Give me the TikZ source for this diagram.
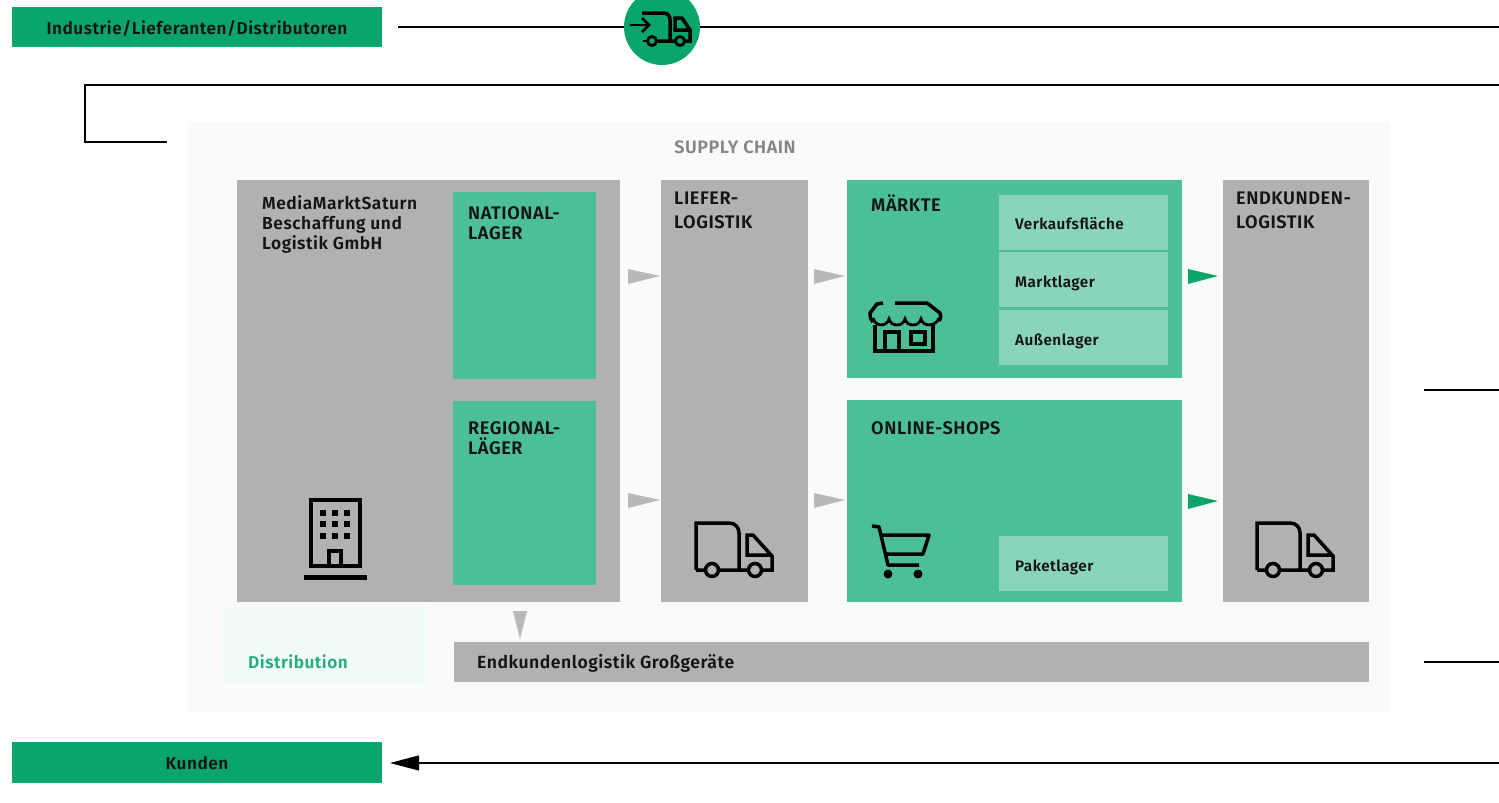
\documentclass[tikz,border=0pt]{standalone}
\usepackage{fontspec}
\setmainfont{Fira Sans}[BoldFont={Fira Sans SemiBold},LetterSpace=3]
\usetikzlibrary{arrows.meta}
\definecolor{gStrong}{HTML}{0AA56B}
\definecolor{gMid}{HTML}{4DBF98}
\definecolor{gLight}{HTML}{8AD4BA}
\definecolor{grayBox}{HTML}{B1B1B1}
\definecolor{grayArrow}{HTML}{B8B8B8}
\definecolor{inkDark}{HTML}{141414}
\tikzset{
  x=1pt,y=-1pt,
  box/.style={inner sep=0pt,outer sep=0pt,anchor=north west},
  greybox/.style={box,fill=grayBox},
  midbox/.style={box,fill=gMid},
  subbox/.style={box,fill=gLight},
  strongbox/.style={box,fill=gStrong},
  lbl/.style={inner sep=0pt,anchor=north west,align=left,font=\fontsize{17.4}{20}\selectfont\bfseries,text=inkDark},
  caps/.style={inner sep=0pt,anchor=north west,align=left,font=\fontsize{18.2}{20}\selectfont\bfseries,text=inkDark},
  capstall/.style={caps,font=\fontsize{18.2}{23.5}\selectfont\bfseries},
  sublbl/.style={inner sep=0pt,anchor=base west,font=\fontsize{15.3}{18}\selectfont\bfseries,text=inkDark},
  widelbl/.style={inner sep=0pt,font=\fontsize{17.2}{18}\selectfont\bfseries,text=inkDark},
  wire/.style={draw=black,line width=1.1pt},
  icon/.style={draw=black,line width=3.5pt,fill=none},
  iconthin/.style={draw=black,line width=2.8pt,fill=none},
}
\newcommand{\boxat}[6]{\node[#1,minimum width=#5pt,minimum height=#6pt] (#2) at (#3,#4) {};}
\newcommand{\truckicon}[2]{%
  \begin{scope}[shift={(#1,#2)}]
    \draw[icon,line join=miter] (0,47) -- (0,0) -- (33,0) .. controls (39,0) and (43,4) .. (43,10) -- (43,47);
    \draw[icon] (0,47) -- (9,47) (23,47) -- (52,47) (66,47) -- (76,47) -- (76,33) -- (57,12) -- (51,12) -- (51,32) -- (76,32);
    \draw[icon] (16,47) circle (6.5);
    \draw[icon] (59,47) circle (6.5);
  \end{scope}}
\begin{document}
\begin{tikzpicture}
\useasboundingbox (0,0) rectangle (1499,803);
\fill[white] (0,0) rectangle (1499,803);
% panel
\fill[black!1.8] (188,122) rectangle (1390,712);
\fill[gLight!10] (222,606) rectangle (430,684);
\node[widelbl,font=\fontsize{18}{20}\selectfont\bfseries,text=black!48] (sc) at (735,147) {SUPPLY CHAIN};
% top and bottom bars
\boxat{strongbox}{ind}{12}{7}{370}{40}
\node[widelbl] at (197,28) {Industrie/Lieferanten/Distributoren};
\boxat{strongbox}{kun}{12}{742}{370}{41}
\node[widelbl] at (197,763) {Kunden};
\node[circle,fill=gStrong,minimum size=76pt,inner sep=0pt,outer sep=0pt] (circ) at (662,27) {};
% boxes
\boxat{greybox}{mms}{237}{180}{383}{422}
\boxat{midbox}{nat}{453}{192}{143}{187}
\boxat{midbox}{reg}{453}{401}{143}{184}
\boxat{greybox}{lief}{661}{180}{147}{422}
\boxat{midbox}{mar}{847}{180}{335}{198}
\boxat{subbox}{vk}{999}{195}{169}{55}
\boxat{subbox}{ml}{999}{252}{169}{55}
\boxat{subbox}{al}{999}{310}{169}{55}
\boxat{midbox}{onl}{847}{400}{335}{202}
\boxat{subbox}{pak}{999}{536}{169}{55}
\boxat{greybox}{end}{1223}{180}{146}{422}
\boxat{greybox}{gross}{454}{642}{915}{40}
% labels
\node[lbl] at (262,195) {MediaMarktSaturn\\Beschaffung und\\Logistik GmbH};
\node[caps] at (468,206) {NATIONAL-\\LAGER};
\node[caps] at (468,421) {REGIONAL-\\LÄGER};
\node[capstall] at (674,192) {LIEFER-\\LOGISTIK};
\node[caps] at (871,195) {MÄRKTE};
\node[caps] at (871,421) {ONLINE-SHOPS};
\node[capstall] at (1236,192) {ENDKUNDEN-\\LOGISTIK};
\node[sublbl] at (1015,229) {Verkaufsfläche};
\node[sublbl] at (1015,287) {Marktlager};
\node[sublbl] at (1015,345) {Außenlager};
\node[sublbl] at (1015,571) {Paketlager};
\node[sublbl,font=\fontsize{17.6}{18}\selectfont\bfseries] at (477,668) {Endkundenlogistik Großgeräte};
\node[sublbl,font=\fontsize{17.2}{18}\selectfont\bfseries,text=gStrong!90] at (248,668) {Distribution};
% wires
\coordinate (a1) at (398,27);
\coordinate (a2) at (1499,27);
\coordinate (b1) at (1499,85);
\coordinate (b2) at (85,85);
\coordinate (b3) at (85,142);
\coordinate (b4) at (167,142);
\coordinate (c1) at (1424,390);
\coordinate (c2) at (1499,390);
\coordinate (d1) at (1424,662);
\coordinate (d2) at (1499,662);
\coordinate (e1) at (1499,763);
\coordinate (e2) at (390,763);
\draw[wire] (a1) -- (circ);
\draw[wire] (circ) -- (a2);
\draw[wire] (b1) -- (b2) -- (b3) -- (b4);
\draw[wire] (c1) -- (c2);
\draw[wire] (d1) -- (d2);
\draw[wire,-{Triangle[length=29pt,width=15pt,fill=black]}] (e1) -- (e2);
% small arrowheads
\fill[grayArrow] (628,269) -- (660,276) -- (628,284) -- cycle;
\fill[grayArrow] (628,493) -- (660,500) -- (628,508) -- cycle;
\fill[grayArrow] (814,269) -- (845,276) -- (814,284) -- cycle;
\fill[grayArrow] (814,493) -- (845,500) -- (814,508) -- cycle;
\fill[gStrong] (1188,269) -- (1218,276) -- (1188,284) -- cycle;
\fill[gStrong] (1188,494) -- (1218,501) -- (1188,509) -- cycle;
\fill[grayArrow] (513,611) -- (527,611) -- (520,639) -- cycle;
% truck icons
\truckicon{696}{523}
\truckicon{1257}{523}
% building
\draw[icon,line width=3.6pt] (311,566) -- (311,500) -- (360,500) -- (360,566) -- cycle;
\draw[icon,line width=5pt] (304,577) -- (367,577);
\foreach \xx in {323,335,347}{\foreach \yy in {513,524,536}{\fill[black] (\xx-2.6,\yy-2.6) rectangle (\xx+2.6,\yy+2.6);}}
\draw[icon] (329,566) -- (329,551) -- (341,551) -- (341,566);
% store
\draw[icon,line join=round] (883,303) -- (877,304) -- (870,313) .. controls (870,318) and (871,320) .. (873,322);
\draw[icon,line join=round] (895,303) -- (927,303) -- (940,313) .. controls (941,317) and (941,319) .. (939,321);
\draw[iconthin] (873,318) .. controls (875,327) and (887,327) .. (889,319) .. controls (891,327) and (903,327) .. (905,319) .. controls (907,327) and (919,327) .. (921,319) .. controls (923,327) and (936,327) .. (939,318);
\draw[icon] (875,325) -- (875,351) -- (933,351) -- (933,325);
\draw[icon] (885,351) -- (885,332) -- (899,332) -- (899,351);
\draw[icon] (911,332) -- (925,332) -- (925,344) -- (911,344) -- cycle;
% cart
\draw[icon,line join=round] (872,526) -- (879,527) -- (888,565) -- (919,565);
\draw[icon,line join=round] (882,535) -- (929,535) -- (923,554) -- (885,554);
\fill[black] (888,574) circle (4.5);
\fill[black] (918,574) circle (4.5);
% fast truck in circle
\draw[icon] (642,13) -- (663,13) .. controls (668,13) and (670,16) .. (670,20) -- (670,41);
\draw[icon] (658,41) -- (675,41) (685,41) -- (690,41) -- (690,30) -- (682,18) -- (675,18) -- (675,30) -- (690,30);
\draw[iconthin] (630,25) -- (649,25);
\draw[iconthin] (642,18) -- (649,25) -- (642,32);
\draw[iconthin] (643,41) -- (647,41);
\draw[iconthin] (652,41) circle (4.5);
\draw[iconthin] (680,41) circle (4.5);
\end{tikzpicture}
\end{document}
